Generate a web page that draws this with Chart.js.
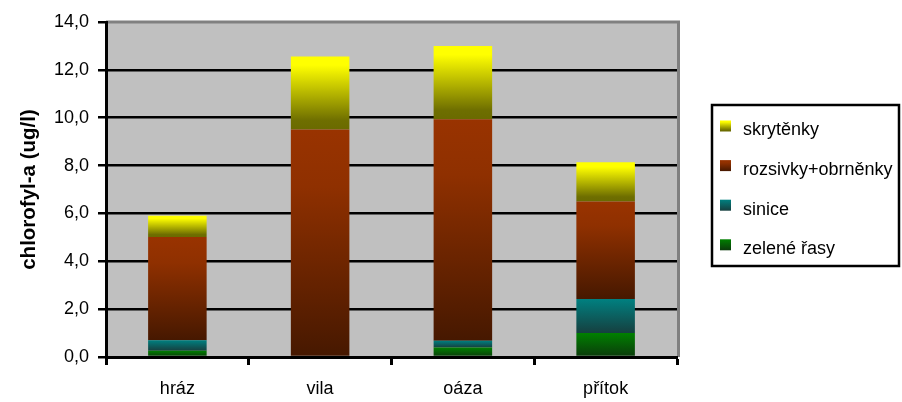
<!DOCTYPE html>
<html>
<head>
<meta charset="utf-8">
<script src="https://cdn.jsdelivr.net/npm/chart.js@4.4.1/dist/chart.umd.min.js"></script>
<style>
  html, body { margin: 0; padding: 0; background: #ffffff; }
  #wrap { width: 902px; height: 402px; }
</style>
</head>
<body>
<div id="wrap"><canvas id="chart" width="902" height="402"></canvas></div>
<script>
// Sampling sites
const sites = ['hráz', 'vila', 'oáza', 'přítok'];

// Chlorophyll-a by algal group (ug/l), stacked bottom to top
const zeleneRasy = [0.26, 0.00, 0.40, 1.00];
const sinice = [0.44, 0.00, 0.28, 1.42];
const rozsivky = [4.31, 9.51, 9.26, 4.08];
const skrytenky = [0.89, 3.05, 3.06, 1.64];

const seriesNames = ['zelené řasy', 'sinice', 'rozsivky+obrněnky', 'skrytěnky'];

// Y axis range
const yMin = 0;
const yMax = 14;
const yStep = 2;

const FONT = '"Liberation Sans", Arial, sans-serif';

// Gradient colour stops (top -> bottom of each segment)
const fills = [
  [[0, '#008000'], [1, '#0b3a0b']],
  [[0, '#008080'], [1, '#163f3f']],
  [[0, '#993300'], [0.25, '#8f3000'], [1, '#461800']],
  [[0, '#ffff00'], [0.12, '#ffff00'], [0.88, '#6e6e00'], [1, '#6a6a00']]
];

function segmentFill(ctx) {
  const chart = ctx.chart;
  const stops = fills[ctx.datasetIndex];
  if (!chart.chartArea || ctx.type !== 'data') return stops[0][1];
  const y = chart.scales.y;
  const di = ctx.datasetIndex, i = ctx.dataIndex;
  let base = 0;
  for (let k = 0; k < di; k++) base += chart.data.datasets[k].data[i];
  const top = base + chart.data.datasets[di].data[i];
  const p0 = y.getPixelForValue(top), p1 = y.getPixelForValue(base);
  if (Math.abs(p1 - p0) < 0.5) return stops[0][1];
  const g = chart.ctx.createLinearGradient(0, p0, 0, p1);
  stops.forEach(s => g.addColorStop(s[0], s[1]));
  return g;
}

const values = [zeleneRasy, sinice, rozsivky, skrytenky];

// Grey plot background with grey top/right frame
const plotBackground = {
  id: 'plotBackground',
  beforeDraw(chart) {
    const { ctx, chartArea: a } = chart;
    ctx.save();
    ctx.fillStyle = '#c0c0c0';
    ctx.fillRect(a.left, a.top, a.right - a.left, a.bottom - a.top);
    ctx.strokeStyle = '#808080';
    ctx.lineWidth = 3;
    ctx.beginPath();
    ctx.moveTo(a.left, a.top);
    ctx.lineTo(a.right + 1.5, a.top);
    ctx.lineTo(a.right + 1.5, a.bottom);
    ctx.stroke();
    ctx.restore();
  }
};

// Framed legend on the right, listed top series first
const boxedLegend = {
  id: 'boxedLegend',
  afterDraw(chart) {
    const { ctx, chartArea: a } = chart;
    const x0 = a.right + 35, y0 = 105, w = 187, h = 161;
    ctx.save();
    ctx.fillStyle = '#ffffff';
    ctx.fillRect(x0, y0, w, h);
    ctx.strokeStyle = '#000000';
    ctx.lineWidth = 2.5;
    ctx.strokeRect(x0, y0, w, h);
    const n = chart.data.datasets.length;
    ctx.font = '18px ' + FONT;
    ctx.textBaseline = 'middle';
    ctx.textAlign = 'left';
    for (let j = 0; j < n; j++) {
      const di = n - 1 - j;
      const ds = chart.data.datasets[di];
      const cy = y0 + 25.5 + j * 39.6;
      const stops = fills[di];
      const g = ctx.createLinearGradient(0, cy - 10, 0, cy + 1);
      stops.forEach(s => g.addColorStop(s[0], s[1]));
      ctx.fillStyle = g;
      ctx.fillRect(x0 + 8, cy - 10, 11, 11);
      ctx.fillStyle = '#000000';
      ctx.fillText(ds.label, x0 + 31, cy);
    }
    ctx.restore();
  }
};

new Chart(document.getElementById('chart'), {
  type: 'bar',
  data: {
    labels: sites,
    datasets: values.map((v, k) => ({
      label: seriesNames[k],
      data: v,
      backgroundColor: segmentFill,
      borderWidth: 0,
      barPercentage: 0.41,
      categoryPercentage: 1.0
    }))
  },
  options: {
    responsive: false,
    animation: false,
    layout: { padding: { top: 22, right: 225, left: 0, bottom: 0 } },
    plugins: {
      legend: { display: false },
      tooltip: { enabled: false }
    },
    scales: {
      x: {
        stacked: true,
        afterFit(scale) { scale.height = 45; },
        grid: {
          display: true,
          offset: true,
          drawOnChartArea: false,
          drawTicks: true,
          tickLength: 8,
          tickWidth: 3,
          tickColor: '#000000'
        },
        border: { display: true, color: '#000000', width: 3 },
        ticks: {
          color: '#000000',
          padding: 13,
          font: { family: FONT, size: 18 }
        }
      },
      y: {
        stacked: true,
        min: yMin,
        max: yMax,
        afterFit(scale) { scale.width = 106; },
        grid: {
          color: ctx => (ctx.tick && ctx.tick.value === yMax) ? 'rgba(0,0,0,0)' : '#000000',
          lineWidth: 2.5,
          tickLength: 8,
          tickColor: '#000000',
          tickWidth: 2.5
        },
        border: { display: true, color: '#000000', width: 3 },
        ticks: {
          stepSize: yStep,
          color: '#000000',
          padding: 9,
          font: { family: FONT, size: 18 },
          callback: v => v.toFixed(1).replace('.', ',')
        },
        title: {
          display: true,
          text: 'chlorofyl-a (ug/l)',
          color: '#000000',
          padding: { top: 17, bottom: 0 },
          font: { family: FONT, size: 20.5, weight: 'bold' }
        }
      }
    }
  },
  plugins: [plotBackground, boxedLegend]
});
</script>
</body>
</html>
